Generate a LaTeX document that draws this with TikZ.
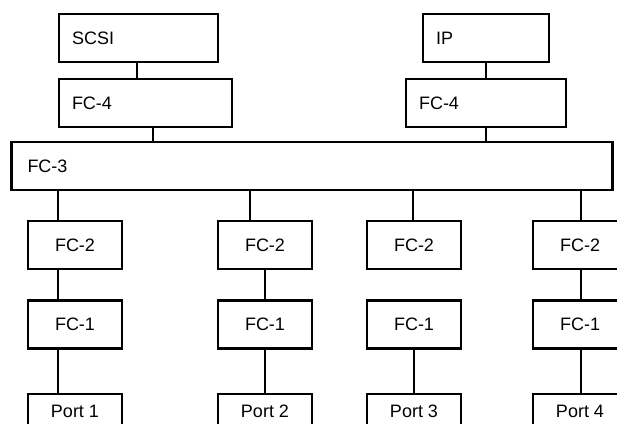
\documentclass[tikz,border=0pt]{standalone}
\usepackage{fontspec}
\setmainfont{Liberation Sans}
\usetikzlibrary{positioning,calc}

\begin{document}
\begin{tikzpicture}[
    x=1pt, y=-1pt,
    font=\fontsize{18pt}{21pt}\selectfont,
    upperBox/.style={
        rectangle,
        draw=black,
        line width=2.6pt,
        minimum height=48pt,
        inner xsep=13pt,
        align=left
    },
    portBox/.style={
        rectangle,
        draw=black,
        line width=2.6pt,
        minimum width=94pt,
        minimum height=48pt
    },
    layerLink/.style={
        draw=black,
        line width=2.6pt
    }
]

% picture frame (lower port boxes run off the bottom edge)
\clip (0,0) rectangle (617,423);

% ==================== UPPER LEVEL PROTOCOLS ====================
\node[upperBox, text width=133pt] (scsiLayer) at (138.5,38) {SCSI};
\node[upperBox, text width=100pt] (ipLayer) at (486,38) {IP};

% ==================== FC-4 MAPPINGS ====================
\node[upperBox, text width=147pt] (fcFourLeft) at (145.5,103) {FC-4};
\node[upperBox, text width=134pt] (fcFourRight) at (486,103) {FC-4};

% ==================== FC-3 COMMON SERVICES ====================
\node[upperBox, inner xsep=16pt, text width=569pt] (fcThree) at (312,166) {FC-3};

% ==================== FC-2 FRAMING ====================
\node[portBox] (fcTwoA) at (75,245) {FC-2};
\node[portBox] (fcTwoB) at (265,245) {FC-2};
\node[portBox] (fcTwoC) at (414,245) {FC-2};
\node[portBox] (fcTwoD) at (580,245) {FC-2};

% ==================== FC-1 ENCODING ====================
\node[portBox] (fcOneA) at (75,324.5) {FC-1};
\node[portBox] (fcOneB) at (265,324.5) {FC-1};
\node[portBox] (fcOneC) at (414,324.5) {FC-1};
\node[portBox] (fcOneD) at (580,324.5) {FC-1};

% ==================== PORTS ====================
\node[portBox, minimum height=35pt] (portA) at (75,411.5) {Port 1};
\node[portBox, minimum height=35pt] (portB) at (265,411.5) {Port 2};
\node[portBox, minimum height=35pt] (portC) at (414,411.5) {Port 3};
\node[portBox, minimum height=35pt] (portD) at (580,411.5) {Port 4};

% ==================== LINKS ====================

% protocols down to FC-4
\draw[layerLink] ([xshift=-1.5pt]scsiLayer.south) -- ([xshift=-1.5pt]scsiLayer.south |- fcFourLeft.north);
\draw[layerLink] (ipLayer.south) -- (fcFourRight.north);

% FC-4 down to FC-3
\draw[layerLink] ([xshift=7.5pt]fcFourLeft.south) -- ([xshift=7.5pt]fcFourLeft.south |- fcThree.north);
\draw[layerLink] (fcFourRight.south) -- (fcFourRight.south |- fcThree.north);

% FC-3 down to each FC-2
\draw[layerLink] ([xshift=-17pt]fcTwoA.north) -- ([xshift=-17pt]fcTwoA.north |- fcThree.south);
\draw[layerLink] ([xshift=-15pt]fcTwoB.north) -- ([xshift=-15pt]fcTwoB.north |- fcThree.south);
\draw[layerLink] ([xshift=-1pt]fcTwoC.north) -- ([xshift=-1pt]fcTwoC.north |- fcThree.south);
\draw[layerLink] ([xshift=1pt]fcTwoD.north) -- ([xshift=1pt]fcTwoD.north |- fcThree.south);

% FC-2 down to FC-1
\draw[layerLink] ([xshift=-17pt]fcTwoA.south) -- ([xshift=-17pt]fcOneA.north);
\draw[layerLink] (fcTwoB.south) -- (fcOneB.north);
\draw[layerLink] ([xshift=1pt]fcTwoD.south) -- ([xshift=1pt]fcOneD.north);

% FC-1 down to ports
\draw[layerLink] ([xshift=-17pt]fcOneA.south) -- ([xshift=-17pt]portA.north);
\draw[layerLink] (fcOneB.south) -- (portB.north);
\draw[layerLink] (fcOneC.south) -- (portC.north);
\draw[layerLink] ([xshift=1pt]fcOneD.south) -- ([xshift=1pt]portD.north);

\end{tikzpicture}
\end{document}
